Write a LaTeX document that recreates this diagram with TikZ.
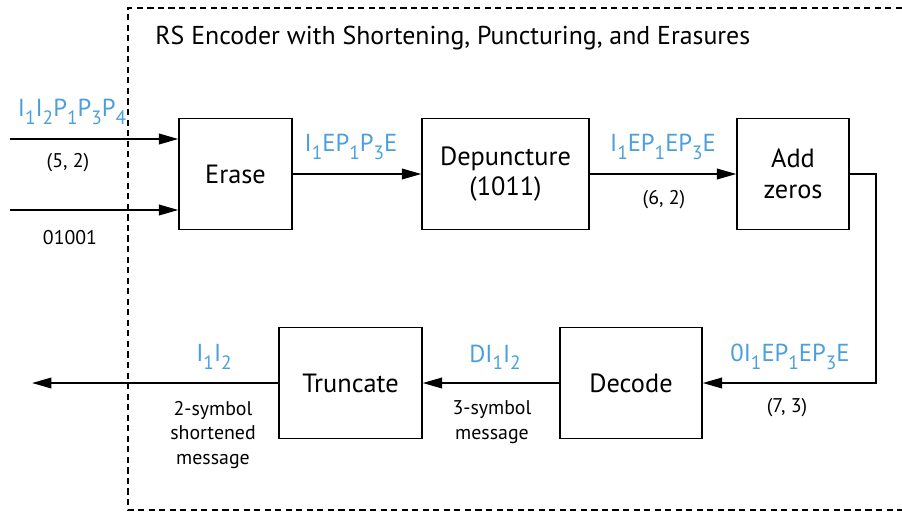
\documentclass[tikz,border=0pt]{standalone}
\usepackage{fontspec}
\setmainfont{PT Sans}
\definecolor{symblue}{HTML}{4A9FDC}
\usetikzlibrary{arrows.meta, positioning}
\newcommand{\sy}[1]{\raisebox{-0.3em}{\fontsize{11}{11}\selectfont #1}}

\begin{document}
\begin{tikzpicture}[
    x=0.02cm, y=-0.02cm,
    block/.style={draw, line width=0.8pt, minimum height=2.22cm, align=center,
                  inner sep=0pt, font=\fontsize{15}{17.5}\selectfont},
    symbols/.style={text=symblue, inner sep=0pt, font=\fontsize{14}{17}\selectfont},
    annot/.style={align=center, inner sep=0pt, font=\fontsize{11.3}{14}\selectfont},
    arrow/.style={-{Triangle[length=11pt, width=6pt]}, line width=1pt}
  ]
    \useasboundingbox (0,0) rectangle (902,511);

    % Dashed frame and title
    \draw[dash pattern=on 3.5pt off 2.5pt, line width=0.8pt]
      (902,8) -- (128,8) -- (128,510) -- (902,510);
    \node[anchor=west, inner sep=0pt, font=\fontsize{14.7}{17}\selectfont] (title)
      at (155,38) {RS Encoder with Shortening, Puncturing, and Erasures};

    % Top row
    \node[block, minimum width=2.26cm] (erase) at (235.5,174) {Erase};
    \node[block, minimum width=3.34cm] (depunct) at (505.5,174) {Depuncture\\(1011)};
    \node[block, minimum width=2.24cm] (addz) at (793,174) {Add\\zeros};

    % Bottom row
    \node[block, minimum width=2.84cm] (decode) at (631,383) {Decode};
    \node[block, minimum width=2.86cm] (trunc) at (350.5,383) {Truncate};

    % Free ends and corners
    \coordinate (in1) at (10,139);
    \coordinate (in2) at (10,210);
    \coordinate (turn1) at (876,174);
    \coordinate (turn2) at (876,383);
    \coordinate (out) at (32,383);

    % Connections
    \draw[arrow] (in1) -- (in1 -| erase.west);
    \draw[arrow] (in2) -- (in2 -| erase.west);
    \draw[arrow] (erase) -- (depunct);
    \draw[arrow] (depunct) -- (addz);
    \draw[arrow] (addz.east) -- (turn1) -- (turn2) -- (decode.east);
    \draw[arrow] (decode) -- (trunc);
    \draw[arrow] (trunc) -- (out);

    % Symbol labels
    \node[symbols] (s-in) at (72,112) {I\sy1I\sy2P\sy1P\sy3P\sy4};
    \node[symbols] (s-erase) at (351,147) {I\sy1EP\sy1P\sy3E};
    \node[symbols] (s-depunct) at (663,147) {I\sy1EP\sy1EP\sy3E};
    \node[symbols] (s-addz) at (790,357) {0I\sy1EP\sy1EP\sy3E};
    \node[symbols] (s-decode) at (495,357) {DI\sy1I\sy2};
    \node[symbols] (s-trunc) at (214,357) {I\sy1I\sy2};

    % Code sizes and notes
    \node[annot] (n-in1) at (68,163) {(5, 2)};
    \node[annot] (n-in2) at (70,238) {01001};
    \node[annot] (n-depunct) at (664,200) {(6, 2)};
    \node[annot] (n-addz) at (787,408) {(7, 3)};
    \node[annot] (n-decode) at (492,422) {3-symbol\\message};
    \node[annot] (n-trunc) at (213,435) {2-symbol\\shortened\\message};
  \end{tikzpicture}
\end{document}
